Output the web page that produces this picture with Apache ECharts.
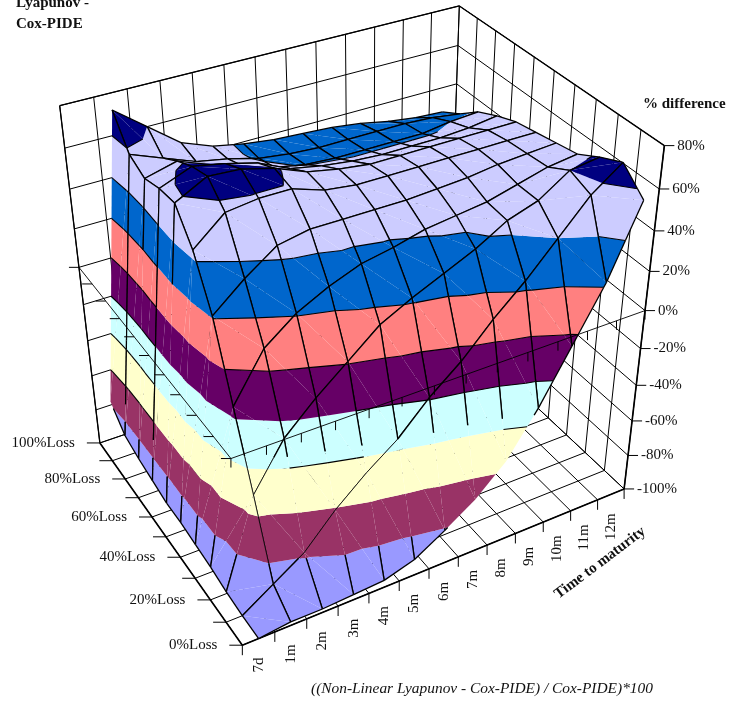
<!DOCTYPE html><html><head><meta charset="utf-8"><style>html,body{margin:0;background:#fff}#c{width:730px;height:703px}</style></head><body><div id="c"></div>
<script src="https://cdn.jsdelivr.net/npm/echarts@6/dist/echarts.min.js"></script>
<script>
var maturities=['7d','1m','2m','3m','4m','5m','6m','7m','8m','9m','10m','11m','12m'];
var zTicks=[-100,-80,-60,-40,-20,0,20,40,60,80];
var lossLabels=['0%Loss','','20%Loss','','40%Loss','','60%Loss','','80%Loss','','100%Loss'];
var loss0  =[-100,-98,-98,-97,-96,-91,-81,-70,-55,-32,-5,22,57];
var loss10 =[-100,-89,-78,-61,-47,-35,-19,-6,10,24,40,56,67];
var loss20 =[-99,-51,-27,-12,1,14,22,29,36,45,50,60,62];
var loss30 =[-97,-15,9,21,29,35,38,42,44,46,50,54,56];
var loss40 =[-96,21,34,45,48,48,48,48,49,50,52,53,54];
var loss50 =[-95,44,57,59,59,54,52,52,52,52,52,52,52];
var loss60 =[-95,58,66,65,61,55,52,50,50,50,50,50,50];
var loss70 =[-93,57,63,60,56,49,46,44,43,43,43,44,46];
var loss80 =[-91,54,58,52,47,42,39,38,38,38,38,40,41];
var loss90 =[-88,58,52,46,43,39,37,36,36,36,36,35,33];
var loss100=[-78,72,60,48,42,39,37,36,35,33,30,28,27];
var surface=[loss0,loss10,loss20,loss30,loss40,loss50,loss60,loss70,loss80,loss90,loss100];
var bandColors=['#9999FF','#993366','#FFFFCC','#CCFFFF','#660066','#FF8080','#0066CC','#CCCCFF','#000080'];

var anchors=[[0,0,0,242,645],[1,0,0,623,489],[0,1,0,99,442],[1,1,0,450,325],[0,1,1,60,106],[1,0,1,665,145],[1,1,1,458,6],[0,0,.5556,232,460],[0,1,.5556,79,267],[1,0,.5556,645,310]];
function solve(A,b){var n=b.length,i,r,c;for(i=0;i<n;i++){var p=i;for(r=i+1;r<n;r++)if(Math.abs(A[r][i])>Math.abs(A[p][i]))p=r;var t=A[i];A[i]=A[p];A[p]=t;t=b[i];b[i]=b[p];b[p]=t;for(r=i+1;r<n;r++){var f=A[r][i]/A[i][i];for(c=i;c<n;c++)A[r][c]-=f*A[i][c];b[r]-=f*b[i];}}var x=[];for(i=n-1;i>=0;i--){var s=b[i];for(c=i+1;c<n;c++)s-=A[i][c]*x[c];x[i]=s/A[i][i];}return x;}
var P=(function(){var rows=[],rhs=[];anchors.forEach(function(p){var u=p[0],v=p[1],h=p[2],X=p[3],Y=p[4];rows.push([u,v,h,1,0,0,0,0,-X*u,-X*v,-X*h]);rhs.push(X);rows.push([0,0,0,0,u,v,h,1,-Y*u,-Y*v,-Y*h]);rhs.push(Y);});var N=[],B=[];for(var i=0;i<11;i++){N.push([]);B.push(0);for(var j=0;j<11;j++){var s=0;rows.forEach(function(r){s+=r[i]*r[j]});N[i].push(s);}rows.forEach(function(r,k){B[i]+=r[i]*rhs[k]});}return solve(N,B);})();
function proj(u,v,z){var h=(z+100)/180,w=P[8]*u+P[9]*v+P[10]*h+1;return[(P[0]*u+P[1]*v+P[2]*h+P[3])/w,(P[4]*u+P[5]*v+P[6]*h+P[7])/w];}
var nU=maturities.length,nV=surface.length;
function gridU(i){return (i+.5)/nU}
function gridV(j){return j/(nV-1)}
function seg(api,a,b,w,col){var p=api.coord(a),q=api.coord(b);return{type:'line',shape:{x1:p[0],y1:p[1],x2:q[0],y2:q[1]},style:{stroke:col||'#000',lineWidth:w},silent:true};}
function L3(api,a,b,w){return seg(api,proj(a[0],a[1],a[2]),proj(b[0],b[1],b[2]),w);}
function txt(api,X,Y,s,o){var p=api.coord([X,Y]);return{type:'text',x:p[0],y:p[1],rotation:o.rot||0,silent:true,style:{text:s,fill:'#111',font:o.font,align:o.align||'left',verticalAlign:'middle',textAlign:o.align||'left',textVerticalAlign:'middle'}};}

function renderFrame(params,api){var c=[],k;
 for(k=0;k<=nU;k++){c.push(L3(api,[k/nU,1,-100],[k/nU,1,80],1));c.push(L3(api,[k/nU,0,-100],[k/nU,1,-100],1));}
 for(k=0;k<=10;k++){c.push(L3(api,[1,k/10,-100],[1,k/10,80],1));c.push(L3(api,[0,k/10,-100],[1,k/10,-100],1));}
 zTicks.forEach(function(z){c.push(L3(api,[0,1,z],[1,1,z],1));c.push(L3(api,[1,0,z],[1,1,z],1));});
 c.push(L3(api,[0,0,-100],[1,0,-100],1.6));c.push(L3(api,[0,0,-100],[0,1,-100],1.6));c.push(L3(api,[1,0,-100],[1,0,80],1.6));
 c.push(L3(api,[0,1,80],[1,1,80],1.3));c.push(L3(api,[1,0,80],[1,1,80],1.3));c.push(L3(api,[0,1,-100],[0,1,80],1.3));
 return{type:'group',children:c};}

function clipBand(tri,lo,hi){function clip(poly,lev,keepAbove){var out=[];for(var i=0;i<poly.length;i++){var a=poly[i],b=poly[(i+1)%poly.length],ia=keepAbove?a[2]>=lev:a[2]<=lev,ib=keepAbove?b[2]>=lev:b[2]<=lev;if(ia)out.push(a);if(ia!==ib){var t=(lev-a[2])/(b[2]-a[2]);out.push([a[0]+t*(b[0]-a[0]),a[1]+t*(b[1]-a[1]),lev]);}}return out;}var p=clip(tri,lo,true);if(p.length)p=clip(p,hi,false);return p;}
// line weight of a mesh segment: heavy, hairline or hidden, as the reference shows it
function meshWidth(z,i,j,rowLine,atU){
 if(z<-80)return 1.3;
 if(rowLine&&i===0){ if(j===9||j===7)return z>-70?1.2:0; if(j===8||j===6)return z>20?1.2:0; return 0; }
 if(z>-35)return 1.3;
 if(rowLine&&(j===1||j===2))return .8;
 if(!rowLine&&atU===1)return .8;
 return 0;}
function contourShown(L,i,j){if(i===0)return j>=7&&L>-80;if(L===-80)return false;if(L===-60)return i>=9;if(L===-40)return (i>=2&&i<=3)||i>=8;if(L===-20)return i>=4;return true;}
function renderCell(params,api){var i=api.value(0),j=api.value(1),c=[];
 var A=[gridU(i),gridV(j),surface[j][i]],B=[gridU(i+1),gridV(j),surface[j][i+1]],C=[gridU(i+1),gridV(j+1),surface[j+1][i+1]],D=[gridU(i),gridV(j+1),surface[j+1][i]];
 [[D,B,C],[A,B,D]].forEach(function(t){
  for(var b=0;b<bandColors.length;b++){var lo=zTicks[b],hi=zTicks[b+1];var poly=clipBand(t,b===0?-1000:lo,b===bandColors.length-1?1000:hi);if(poly.length>=3){c.push({type:'polygon',silent:true,shape:{points:poly.map(function(q){return api.coord(proj(q[0],q[1],q[2]))})},style:{fill:bandColors[b]}});}}
 });
 [[D,B,C],[A,B,D]].forEach(function(t){zTicks.slice(1,-1).forEach(function(L){if(!contourShown(L,i,j))return;var hit=[];for(var e=0;e<3;e++){var a=t[e],b=t[(e+1)%3];if((a[2]-L)*(b[2]-L)<0){var s=(L-a[2])/(b[2]-a[2]);hit.push(proj(a[0]+s*(b[0]-a[0]),a[1]+s*(b[1]-a[1]),L));}}if(hit.length===2)c.push(seg(api,hit[0],hit[1],1.1));});});
 [[A,B,true,j,i],[B,C,false,j,i+1],[D,C,true,j+1,i],[A,D,false,j,i]].forEach(function(e){var a=e[0],b=e[1],row=e[2],jj=e[3],ii=e[4],cuts=[0,1];zTicks.concat([-35,-70,20]).forEach(function(L){if((a[2]-L)*(b[2]-L)<0)cuts.push((L-a[2])/(b[2]-a[2]));});cuts.sort(function(x,y){return x-y});function at(f){return proj(a[0]+f*(b[0]-a[0]),a[1]+f*(b[1]-a[1]),a[2]+f*(b[2]-a[2]));}for(var k=0;k<cuts.length-1;k++){var s=cuts[k],t=cuts[k+1],m=(s+t)/2,w=meshWidth(a[2]+m*(b[2]-a[2]),i,jj,row,ii);if(w>0)c.push(seg(api,at(s),at(t),w));}});
 return{type:'group',children:c};}

function renderAxes(params,api){var c=[],k,p;
 c.push(L3(api,[0,1,0],[0,0,0],.9));c.push(L3(api,[0,0,0],[1,0,0],.9));
 for(k=0;k<=nU;k++){p=proj(k/nU,0,0);c.push(seg(api,p,[p[0],p[1]+9],1));p=proj(k/nU,0,-100);c.push(seg(api,p,[p[0],p[1]+10],1));}
 for(k=0;k<=10;k++){p=proj(0,k/10,0);c.push(seg(api,p,[p[0]-10,p[1]],1));p=proj(0,k/10,-100);c.push(seg(api,p,[p[0]-13,p[1]],1));}
 var serif='"Liberation Serif","Times New Roman",serif';
 var f='15px '+serif;
 zTicks.forEach(function(z){p=proj(1,0,z);c.push(seg(api,p,[p[0]+10,p[1]],1));c.push(txt(api,p[0]+13,p[1],z+'%',{font:f}));});
 maturities.forEach(function(m,i){p=proj((i+.5)/nU,0,-100);c.push(txt(api,p[0],p[1]+19,m,{font:f,align:'right',rot:Math.PI/2}));});
 lossLabels.forEach(function(l,k){if(!l)return;p=proj(0,k/10,-100);c.push(txt(api,p[0]-25,p[1],l,{font:f,align:'right'}));});
 c.push(txt(api,16,3,'Lyapunov -',{font:'bold 15px '+serif}));
 c.push(txt(api,16,24,'Cox-PIDE',{font:'bold 15px '+serif}));
 c.push(txt(api,643,104,'% difference',{font:'bold 15px '+serif}));
 c.push(txt(api,600,563,'Time to maturity',{font:'bold 15px '+serif,align:'center',rot:37*Math.PI/180}));
 c.push(txt(api,311,689,'((Non-Linear Lyapunov - Cox-PIDE) / Cox-PIDE)*100',{font:'italic 15.4px '+serif}));
 return{type:'group',children:c};}

var cells=[];for(var j=nV-2;j>=0;j--)for(var i=nU-2;i>=0;i--)cells.push([i,j]);
var chart=echarts.init(document.getElementById('c'),null,{renderer:'canvas',width:730,height:703});
chart.setOption({animation:false,backgroundColor:'#fff',
 grid:{left:0,right:0,top:0,bottom:0},
 xAxis:{type:'value',min:0,max:730,show:false},
 yAxis:{type:'value',min:0,max:703,inverse:true,show:false},
 series:[
  {type:'custom',data:[[0,0]],renderItem:renderFrame,clip:false,silent:true,z:1},
  {type:'custom',data:cells,renderItem:renderCell,clip:false,silent:true,z:2,progressive:0},
  {type:'custom',data:[[0,0]],renderItem:renderAxes,clip:false,silent:true,z:3}
 ]});
</script></body></html>
